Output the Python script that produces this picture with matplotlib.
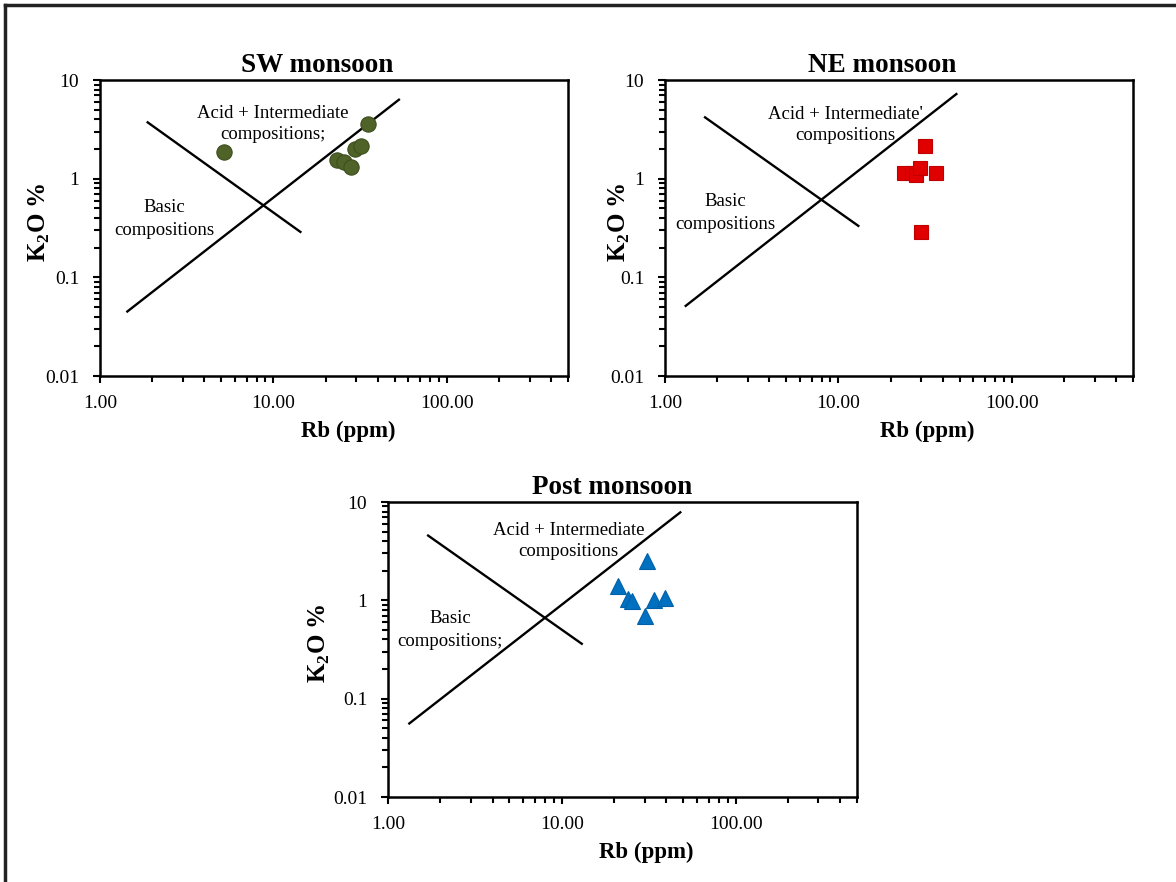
import matplotlib
matplotlib.use("Agg")
import matplotlib.pyplot as plt
from matplotlib.lines import Line2D

plt.rcParams['font.family'] = ['Liberation Serif', 'DejaVu Serif']
plt.rcParams['mathtext.fontset'] = 'custom'
plt.rcParams['mathtext.rm'] = 'Liberation Serif'
plt.rcParams['mathtext.bf'] = 'Liberation Serif:bold'

# ---- data ----
titles = ["SW monsoon", "NE monsoon", "Post monsoon"]

sw_rb = [5.2, 35.2, 29.5, 32.0, 23.2, 25.6, 28.2]
sw_k2o = [1.85, 3.6, 2.0, 2.15, 1.55, 1.49, 1.32]

ne_rb = [31.5, 36.5, 23.9, 26.6, 28.0, 29.5, 30.0]
ne_k2o = [2.14, 1.13, 1.13, 1.13, 1.10, 1.27, 0.29]

post_rb = [31.0, 21.1, 24.2, 25.2, 34.1, 39.4, 30.2]
post_k2o = [2.54, 1.41, 1.04, 0.98, 1.00, 1.06, 0.70]

# boundary lines (hand drawn in the original): [x0, x1], [y0, y1]
sw_dec_x, sw_dec_y = [1.86, 14.5], [3.78, 0.284]
sw_inc_x, sw_inc_y = [1.42, 53.6], [0.0443, 6.42]
ne_dec_x, ne_dec_y = [1.68, 13.2], [4.25, 0.327]
ne_inc_x, ne_inc_y = [1.30, 48.5], [0.0505, 7.33]
post_dec_x, post_dec_y = [1.68, 13.2], [4.63, 0.356]
post_inc_x, post_inc_y = [1.31, 48.7], [0.055, 7.98]

x_ticks = [1, 10, 100]
x_ticklabels = ["1.00", "10.00", "100.00"]
y_ticks = [0.01, 0.1, 1, 10]
y_ticklabels = ["0.01", "0.1", "1", "10"]

acid_labels = ["Acid + Intermediate\ncompositions;", "Acid + Intermediate'\ncompositions",
               "Acid + Intermediate\ncompositions"]
basic_labels = ["Basic\ncompositions", "Basic\ncompositions", "Basic\ncompositions;"]

# ---- figure ----
W, H = 1176, 882
fig = plt.figure(figsize=(W / 100, H / 100), dpi=100)

def fr(left, top, right, bottom):
    return [left / W, 1 - bottom / H, (right - left) / W, (bottom - top) / H]

panels = [
    dict(rect=fr(100, 80, 568, 376), rb=sw_rb, k=sw_k2o, marker='o', color='#4F6228',
         edge='#3E4F1E', ms=11, dec=(sw_dec_x, sw_dec_y), inc=(sw_inc_x, sw_inc_y),
         acid=(0.370, 0.850), basic=(0.138, 0.531), tx=0.465, lx=0.53, yl=-0.103),
    dict(rect=fr(665, 80, 1133, 376), rb=ne_rb, k=ne_k2o, marker='s', color='#E00000',
         edge='#C00000', ms=10, dec=(ne_dec_x, ne_dec_y), inc=(ne_inc_x, ne_inc_y),
         acid=(0.386, 0.848), basic=(0.128, 0.551), tx=0.465, lx=0.56, yl=-0.070),
    dict(rect=fr(388, 502, 857, 797), rb=post_rb, k=post_k2o, marker='^', color='#0070C0',
         edge='#0060A8', ms=11.5, dec=(post_dec_x, post_dec_y), inc=(post_inc_x, post_inc_y),
         acid=(0.385, 0.869), basic=(0.132, 0.565), tx=0.478, lx=0.55, yl=-0.119),
]

for i, p in enumerate(panels):
    ax = fig.add_axes(p['rect'])
    ax.set_xscale('log')
    ax.set_yscale('log')
    ax.set_xlim(1, 500)
    ax.set_ylim(0.01, 10)
    ax.plot(p['dec'][0], p['dec'][1], color='black', lw=1.7, solid_capstyle='butt')
    ax.plot(p['inc'][0], p['inc'][1], color='black', lw=1.7, solid_capstyle='butt')
    ax.plot(p['rb'], p['k'], linestyle='none', marker=p['marker'], ms=p['ms'],
            mfc=p['color'], mec=p['edge'], mew=0.8, zorder=3)
    ax.text(p['acid'][0], p['acid'][1], acid_labels[i], transform=ax.transAxes,
            ha='center', va='center', fontsize=13.5, linespacing=1.3)
    ax.text(p['basic'][0], p['basic'][1], basic_labels[i], transform=ax.transAxes,
            ha='center', va='center', fontsize=13.5, linespacing=1.45)
    ax.set_xticks(x_ticks)
    ax.set_xticklabels(x_ticklabels)
    ax.set_yticks(y_ticks)
    ax.set_yticklabels(y_ticklabels)
    ax.tick_params(which='both', direction='out', width=1.5, labelsize=14, color='black')
    ax.tick_params(which='major', length=5)
    ax.tick_params(which='minor', length=4)
    ax.tick_params(axis='x', which='major', pad=9)
    ax.tick_params(axis='y', which='major', pad=10)
    for s in ax.spines.values():
        s.set_linewidth(1.8)
    ax.set_title(titles[i], fontsize=19.5, fontweight='bold', x=p['tx'], pad=6)
    ax.set_xlabel("Rb (ppm)", fontsize=16.5, fontweight='bold', x=p['lx'], labelpad=6)
    ax.set_ylabel(r"K$_\mathbf{2}$O %", fontsize=18, fontweight='bold')
    ax.yaxis.set_label_coords(p['yl'], 0.52)

# outer frame (left and top edges visible)
fig.add_artist(Line2D([5 / W, 5 / W], [0, 1 - 5 / H], transform=fig.transFigure,
                      color='#222222', lw=2.5))
fig.add_artist(Line2D([5 / W, 1], [1 - 5 / H, 1 - 5 / H], transform=fig.transFigure,
                      color='#222222', lw=2.5))

fig.savefig("out.png", dpi=100, facecolor='white')
